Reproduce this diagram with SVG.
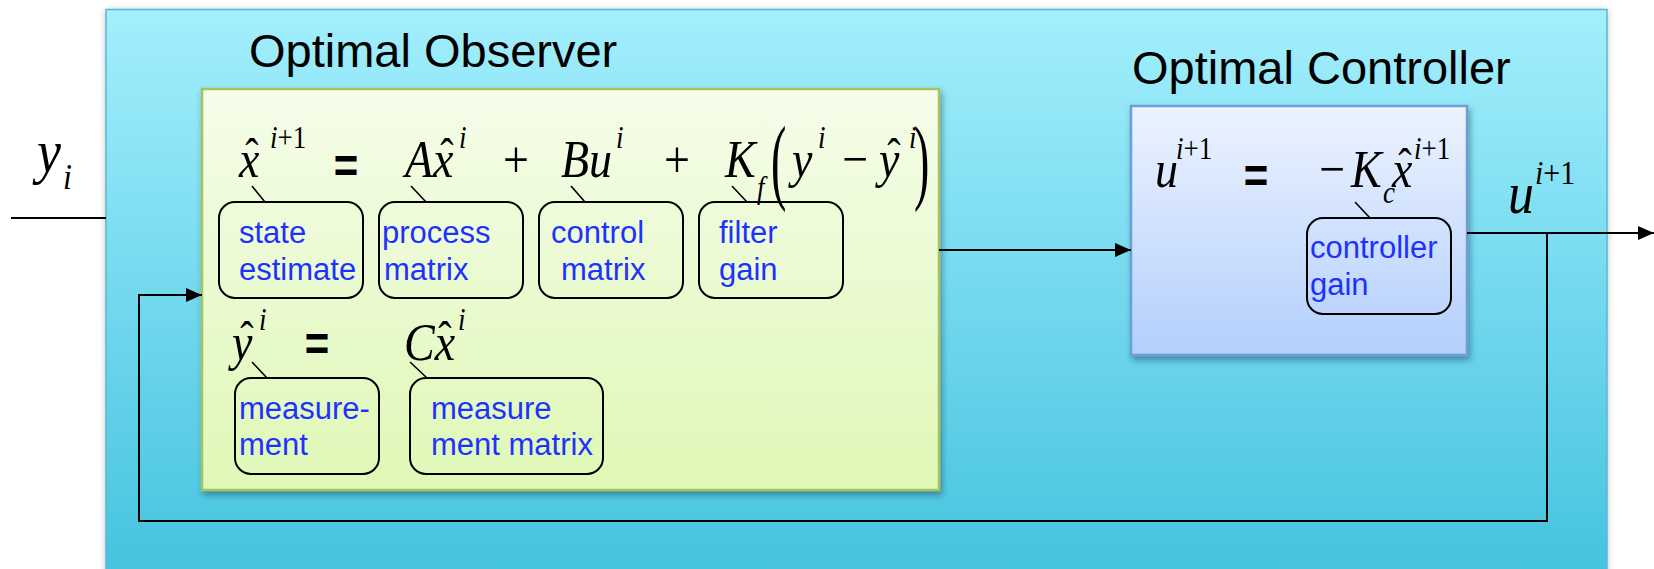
<svg xmlns="http://www.w3.org/2000/svg" width="1654" height="569" viewBox="0 0 1654 569">
<defs>
<linearGradient id="gOuter" x1="0" y1="0" x2="0" y2="1">
<stop offset="0" stop-color="#a3effd"/>
<stop offset="1" stop-color="#43c2de"/>
</linearGradient>
<linearGradient id="gObs" x1="0" y1="0" x2="0" y2="1">
<stop offset="0" stop-color="#f5fdea"/>
<stop offset="1" stop-color="#dff8b6"/>
</linearGradient>
<linearGradient id="gCtl" x1="0" y1="0" x2="0" y2="1">
<stop offset="0" stop-color="#ecf3ff"/>
<stop offset="1" stop-color="#b3cffc"/>
</linearGradient>
<filter id="shOuter" x="-5%" y="-5%" width="110%" height="110%">
<feDropShadow dx="0" dy="1" stdDeviation="3" flood-color="#000" flood-opacity="0.25"/>
</filter>
<filter id="shBox" x="-5%" y="-5%" width="110%" height="115%">
<feDropShadow dx="2" dy="4" stdDeviation="3" flood-color="#1b5068" flood-opacity="0.55"/>
</filter>
<marker id="arr" markerUnits="userSpaceOnUse" markerWidth="16" markerHeight="14" refX="16" refY="7" orient="auto">
<path d="M0,0 L16,7 L0,14 z" fill="#000"/>
</marker>
<style>
.title{font-family:"Liberation Sans",Arial,sans-serif;font-size:47px;fill:#000}
.m{font-family:"Liberation Serif","Times New Roman",serif;font-style:italic;font-size:46px;fill:#000}
.sup{font-family:"Liberation Serif","Times New Roman",serif;font-size:27px;fill:#000}
.up{font-family:"Liberation Serif","Times New Roman",serif;font-style:normal;fill:#000}
.eq{font-family:"Liberation Sans",Arial,sans-serif;font-weight:bold;font-size:42px;fill:#000;text-anchor:middle}
.hat{font-family:"Liberation Serif","Times New Roman",serif;font-size:40px;fill:#000;text-anchor:middle}
.lbl{font-family:"Liberation Sans",Arial,sans-serif;font-size:31px;fill:#1e32ff}
.call{fill:none;stroke:#000;stroke-width:2}
.lead{stroke:#000;stroke-width:1.6}
.wire{fill:none;stroke:#000;stroke-width:2}
</style>
</defs>

<g id="system">
<rect x="106" y="9.5" width="1501" height="575" fill="url(#gOuter)" stroke="#5ab7d1" stroke-width="1.5" filter="url(#shOuter)"/>
</g>

<g id="input-label" transform="matrix(1,0,0,1.15,0,-25.8)">
<text class="m" x="37" y="172" style="font-size:54px">y</text>
<text class="m" x="63" y="187" style="font-size:32px">i</text>
</g>

<g id="observer">
<text class="title" x="249" y="67">Optimal Observer</text>
<rect x="202" y="89" width="737" height="401" fill="url(#gObs)" stroke="#a6c35e" stroke-width="2.5" filter="url(#shBox)"/>
<!-- line 1 -->
<g transform="matrix(1,0,0,1.17,0,-30.09)">
<text class="m" x="239" y="177">x</text>
<text class="hat" x="252" y="172">ˆ</text>
<text class="sup" x="270" y="152"><tspan font-style="italic">i</tspan>+1</text>
<text class="eq" x="346" y="182">=</text>
<text class="m" x="405" y="177">Ax</text>
<text class="hat" x="447" y="172">ˆ</text>
<text class="sup" x="459" y="152" font-style="italic">i</text>
<text class="up" x="503" y="177" style="font-size:46px">+</text>
<text class="m" x="561" y="177">Bu</text>
<text class="sup" x="616" y="152" font-style="italic">i</text>
<text class="up" x="664" y="177" style="font-size:46px">+</text>
<text class="m" x="725" y="177">K</text>
<text class="sup" x="757" y="195" font-style="italic">f</text>
<text class="m" x="792" y="177">y</text>
<text class="sup" x="818" y="152" font-style="italic">i</text>
<text class="up" x="842" y="177" style="font-size:46px">−</text>
<text class="m" x="879" y="177">y</text>
<text class="hat" x="894" y="172">ˆ</text>
<text class="sup" x="909" y="152" font-style="italic">i</text>
</g>
<text class="up" transform="translate(771,192) scale(1,2.05)" x="0" y="0" style="font-size:46px">(</text>
<text class="up" transform="translate(914,192) scale(1,2.05)" x="0" y="0" style="font-size:46px">)</text>
<!-- callouts line 1 -->
<line class="lead" x1="252" y1="186" x2="265" y2="202"/>
<rect class="call" x="219" y="202" width="144" height="96" rx="16"/>
<text class="lbl" x="239" y="243">state</text>
<text class="lbl" x="239" y="280">estimate</text>
<line class="lead" x1="411" y1="186" x2="426" y2="202"/>
<rect class="call" x="379" y="202" width="144" height="96" rx="16"/>
<text class="lbl" x="382" y="243">process</text>
<text class="lbl" x="384" y="280">matrix</text>
<line class="lead" x1="571" y1="186" x2="585" y2="202"/>
<rect class="call" x="539" y="202" width="144" height="96" rx="16"/>
<text class="lbl" x="551" y="243">control</text>
<text class="lbl" x="561" y="280">matrix</text>
<line class="lead" x1="732" y1="186" x2="747" y2="202"/>
<rect class="call" x="699" y="202" width="144" height="96" rx="16"/>
<text class="lbl" x="719" y="243">filter</text>
<text class="lbl" x="719" y="280">gain</text>
<!-- line 2 -->
<g transform="matrix(1,0,0,1.17,0,-61.2)">
<text class="m" x="232" y="360">y</text>
<text class="hat" x="247" y="355">ˆ</text>
<text class="sup" x="259" y="334" font-style="italic">i</text>
<text class="eq" x="317" y="361">=</text>
<text class="m" x="404" y="360">Cx</text>
<text class="hat" x="445" y="355">ˆ</text>
<text class="sup" x="458" y="334" font-style="italic">i</text>
</g>
<line class="lead" x1="252" y1="362" x2="267" y2="378"/>
<rect class="call" x="235" y="378" width="144" height="96" rx="16"/>
<text class="lbl" x="239" y="419">measure-</text>
<text class="lbl" x="239" y="455">ment</text>
<line class="lead" x1="410" y1="362" x2="427" y2="378"/>
<rect class="call" x="410" y="378" width="193" height="96" rx="16"/>
<text class="lbl" x="431" y="419">measure</text>
<text class="lbl" x="431" y="455">ment matrix</text>
</g>

<g id="controller">
<text class="title" x="1132" y="84">Optimal Controller</text>
<rect x="1131" y="106" width="336" height="249" fill="url(#gCtl)" stroke="#6d9fd6" stroke-width="2.5" filter="url(#shBox)"/>
<g transform="matrix(1,0,0,1.17,0,-31.79)">
<text class="m" x="1155" y="187">u</text>
<text class="sup" x="1176" y="163"><tspan font-style="italic">i</tspan>+1</text>
<text class="eq" x="1256" y="192">=</text>
<text class="up" x="1319" y="187" style="font-size:46px">−</text>
<text class="m" x="1351" y="187">K</text>
<text class="sup" x="1383" y="201" font-style="italic">c</text>
<text class="m" x="1392" y="187">x</text>
<text class="hat" x="1405" y="182">ˆ</text>
<text class="sup" x="1414" y="163"><tspan font-style="italic">i</tspan>+1</text>
</g>
<line class="lead" x1="1355" y1="202" x2="1370" y2="218"/>
<rect class="call" x="1307" y="218" width="144" height="96" rx="16"/>
<text class="lbl" x="1310" y="258">controller</text>
<text class="lbl" x="1310" y="295">gain</text>
</g>

<g id="output-label" transform="matrix(1,0,0,1.12,0,-25.56)">
<text class="m" x="1508" y="213" style="font-size:52px">u</text>
<text class="sup" x="1535" y="187" style="font-size:30px"><tspan font-style="italic">i</tspan>+1</text>
</g>

<g id="connectors">
<line class="wire" x1="11" y1="218" x2="106" y2="218"/>
<line class="wire" x1="939" y1="250" x2="1131" y2="250" marker-end="url(#arr)"/>
<line class="wire" x1="1467" y1="233" x2="1654" y2="233" marker-end="url(#arr)"/>
<polyline class="wire" points="1547,233 1547,521 139,521 139,295 202,295" marker-end="url(#arr)"/>
</g>
</svg>
